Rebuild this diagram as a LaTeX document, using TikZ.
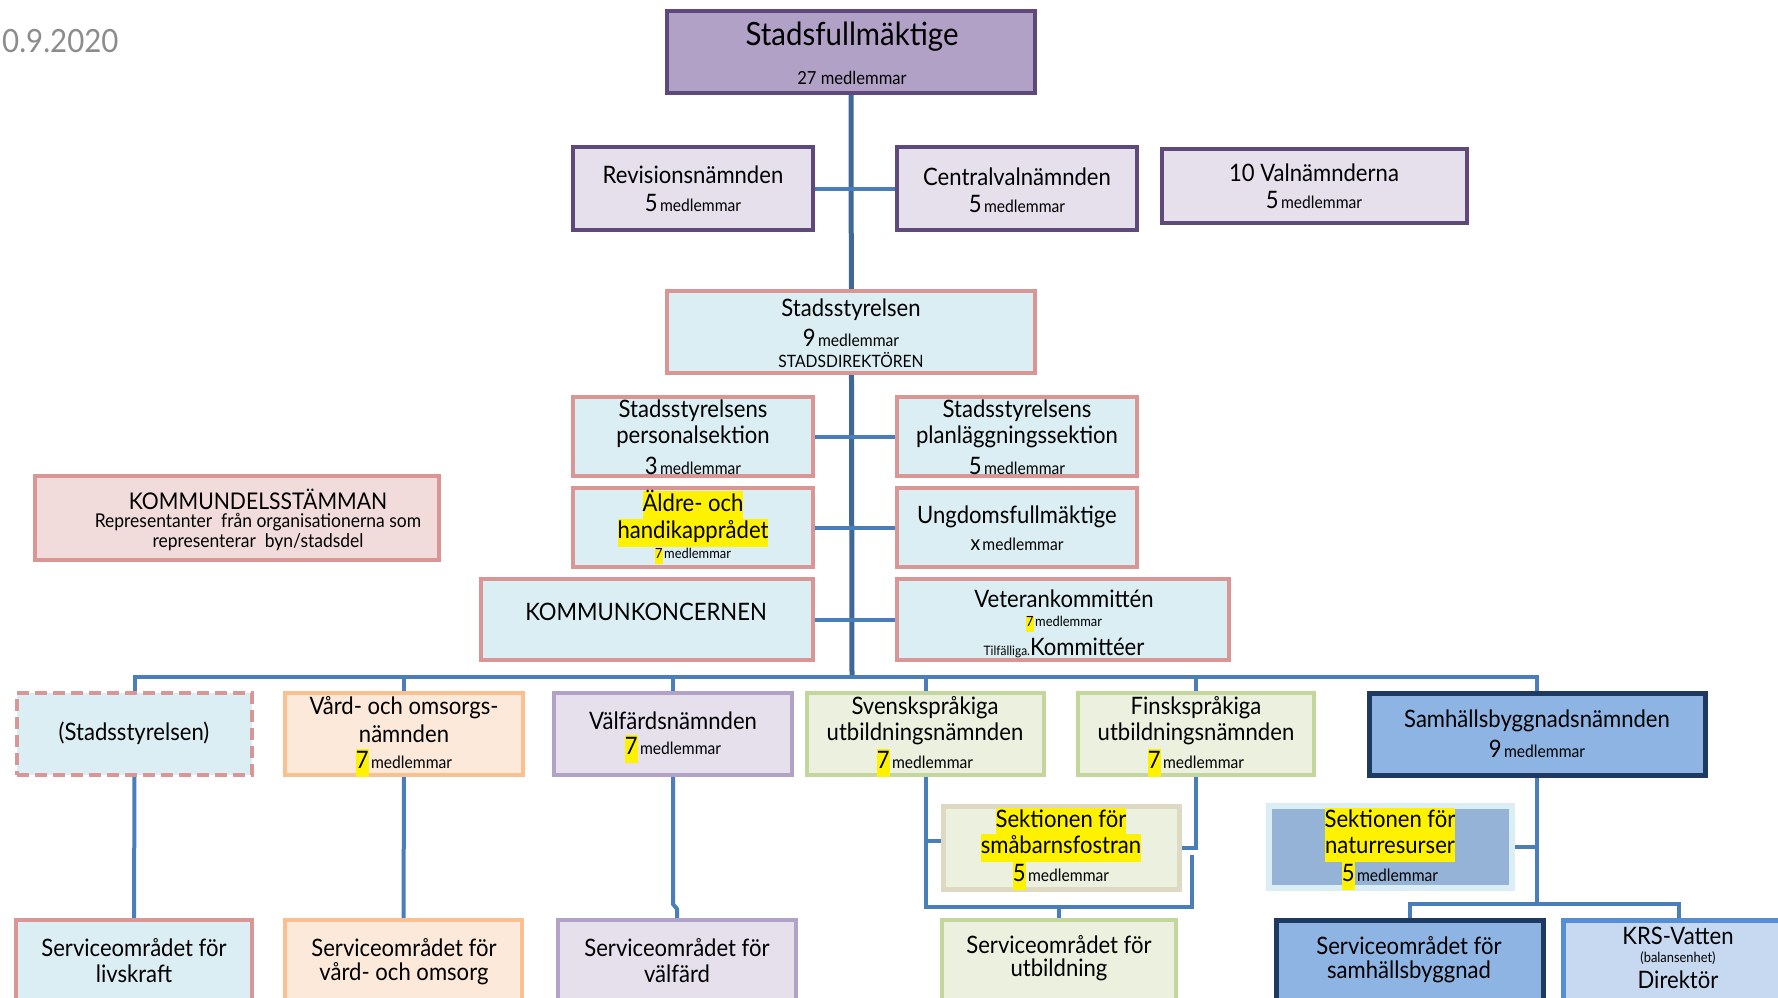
\documentclass[tikz,border=0pt]{standalone}
\usepackage{fontspec}
\setmainfont{Lato}[FakeStretch=0.92]
\usetikzlibrary{fit}
\pgfdeclarelayer{bg}
\pgfsetlayers{bg,main}
\definecolor{purpD}{HTML}{5F497A}
\definecolor{sfFill}{HTML}{B2A1C7}
\definecolor{lavF}{HTML}{E5E0EC}
\definecolor{pinkB}{HTML}{D99694}
\definecolor{ltBlue}{HTML}{DBEEF4}
\definecolor{pinkF}{HTML}{F2DCDB}
\definecolor{orgB}{HTML}{FAC08F}
\definecolor{orgF}{HTML}{FDE9D9}
\definecolor{vioB}{HTML}{B3A2C7}
\definecolor{grnB}{HTML}{C3D69B}
\definecolor{grnF}{HTML}{EBF1DE}
\definecolor{tanB}{HTML}{DDD9C3}
\definecolor{samF}{HTML}{8EB4E3}
\definecolor{navyB}{HTML}{1F3A60}
\definecolor{natF}{HTML}{95B3D7}
\definecolor{krsF}{HTML}{C6D9F1}
\definecolor{krsB}{HTML}{558ED5}
\definecolor{connC}{HTML}{4A7EBB}
\definecolor{trunkC}{HTML}{3F6897}
\definecolor{dateC}{HTML}{8C8C8C}
\newcommand\fA{\fontsize{24}{28}\selectfont}
\newcommand\fB{\fontsize{17}{20}\selectfont}
\newcommand\fC{\fontsize{14}{16}\selectfont}
\newcommand\fD{\fontsize{32}{36}\selectfont}
\newcommand\hl[1]{{\setlength{\fboxsep}{0pt}\colorbox{yellow}{#1\strut}}}
\newcommand\txtline[4]{\node[txt] (#1) at (#2,#3) {#4};}
\newcommand\med[1]{{\fA #1} {\fB medlemmar}}
\begin{document}
\begin{tikzpicture}[x=1pt,y=-1pt,
  box/.style={draw, line width=4pt, inner sep=0pt, outer sep=0pt},
  purpbox/.style={box, fill=sfFill, draw=purpD},
  lavbox/.style={box, fill=lavF, draw=purpD},
  pinkbox/.style={box, fill=ltBlue, draw=pinkB},
  rosebox/.style={box, fill=pinkF, draw=pinkB},
  orgbox/.style={box, fill=orgF, draw=orgB},
  viobox/.style={box, fill=lavF, draw=vioB},
  grnbox/.style={box, fill=grnF, draw=grnB},
  tanbox/.style={box, fill=grnF, draw=tanB, line width=5pt},
  navybox/.style={box, fill=samF, draw=navyB, line width=5pt},
  natbox/.style={box, fill=natF, draw=ltBlue, line width=6pt},
  krsbox/.style={box, fill=krsF, draw=krsB, line width=5pt},
  txt/.style={inner sep=0pt, align=center, text=black, yshift=-2.5pt},
  conn/.style={draw=connC, line width=4pt},
  trunk/.style={draw=trunkC, line width=5pt}]
\clip (0,0) rectangle (1778,998);

% date
\node[txt, anchor=west, text=dateC] (date) at (2,39) {\fD 0.9.2020};

% boxes
\node[purpbox, fit={(667,11) (1035,93)}] (sf) {};
\node[lavbox, fit={(573,147) (813,230)}] (rev) {};
\node[lavbox, fit={(897,147) (1137,230)}] (cen) {};
\node[lavbox, fit={(1162,149) (1467,223)}] (val) {};
\node[pinkbox, fit={(667,291) (1035,373)}] (ss) {};
\node[pinkbox, fit={(573,397) (813,476)}] (pers) {};
\node[pinkbox, fit={(897,397) (1137,476)}] (plan) {};
\node[pinkbox, fit={(573,488) (813,567)}] (aldre) {};
\node[pinkbox, fit={(897,488) (1137,567)}] (ung) {};
\node[pinkbox, fit={(481,579) (813,660)}] (kk) {};
\node[pinkbox, fit={(897,579) (1229,660)}] (vet) {};
\node[rosebox, fit={(35,476) (439,560)}] (kds) {};

\node[pinkbox, dash pattern=on 12pt off 6pt, fit={(17,693) (252,775)}] (sst) {};
\node[orgbox, fit={(285,693) (523,775)}] (vard) {};
\node[viobox, fit={(554,693) (792,775)}] (valf) {};
\node[grnbox, fit={(807,693) (1044,775)}] (sv) {};
\node[grnbox, fit={(1078,693) (1314,775)}] (fi) {};
\node[navybox, fit={(1369,693) (1705,775)}] (samh) {};

\node[tanbox, fit={(943,806) (1179,889)}] (smab) {};
\node[natbox, fit={(1269,806) (1512,888)}] (nat) {};

\node[pinkbox, fit={(16,920) (252,1010)}] (svc1) {};
\node[orgbox, fit={(285,920) (522,1010)}] (svc2) {};
\node[viobox, fit={(558,920) (796,1010)}] (svc3) {};
\node[grnbox, fit={(942,920) (1176,1010)}] (utb) {};
\node[navybox, fit={(1276,920) (1543,1010)}] (ssb) {};
\node[krsbox, fit={(1563,920) (1795,1010)}] (krs) {};

% connectors (behind the boxes)
\begin{pgfonlayer}{bg}
\fill[white] (0,0) rectangle (1778,998);
\coordinate (busC) at (852,677);
\draw[trunk] (sf.south) -- (busC);
\draw[conn] (rev.east) -- (cen.west);
\draw[conn] (pers.east) -- (plan.west);
\draw[conn] (aldre.east) -- (ung.west);
\draw[conn] (kk.east) -- (vet.west);
\draw[conn] (sst.north) -- (sst.north |- busC) -| (samh.north);
\draw[conn] (vard.north) -- (vard.north |- busC);
\draw[conn] (valf.north) -- (valf.north |- busC);
\draw[conn] (sv.north) -- (sv.north |- busC);
\draw[conn] (fi.north) -- (fi.north |- busC);

\draw[conn] (sst.south) -- (svc1.north);
\draw[conn] (vard.south) -- (svc2.north);
\draw[conn] (valf.south) -- ([yshift=16pt]valf.south |- svc3.north) -- ([yshift=11pt]svc3.north) -- (svc3.north);

\coordinate (brR) at (1192,907);
\coordinate (svStub) at (924,841);
\draw[conn] (sv.south) |- (brR) -- ([yshift=52pt]brR);
\draw[conn] (svStub) -- (smab.west |- svStub);
\draw[conn] (fi.south) |- (smab.east);
\draw[conn] (utb.north) -- (utb.north |- brR);

\coordinate (sj) at (1537,904);
\draw[conn] (samh.south) -- (sj);
\draw[conn] (samh.south |- nat.east) -- (nat.east);
\draw[conn] (ssb.north) |- (sj) -| (krs.north);
\end{pgfonlayer}

% texts
\txtline{t1}{852}{34}{\fD Stadsfullmäktige}
\txtline{t2}{852}{75}{\fontsize{18}{21}\selectfont 27 medlemmar}
\txtline{t3}{693}{172}{\fA Revisionsnämnden}
\txtline{t4}{693}{200}{\med{5}}
\txtline{t5}{1017}{174}{\fA Centralvalnämnden}
\txtline{t6}{1017}{201}{\med{5}}
\txtline{t7}{1314}{170}{\fA 10 Valnämnderna}
\txtline{t8}{1314}{197}{\med{5}}
\txtline{t9}{851}{307}{\fA Stadsstyrelsen}
\txtline{t10}{851}{335}{\med{9}}
\txtline{t11}{851}{358}{\fB STADSDIREKTÖREN}
\txtline{t12}{693}{408}{\fA Stadsstyrelsens}
\txtline{t13}{693}{434}{\fA personalsektion}
\txtline{t14}{693}{463}{\med{3}}
\txtline{t15}{1017}{408}{\fA Stadsstyrelsens}
\txtline{t16}{1017}{434}{\fA planläggningssektion}
\txtline{t17}{1017}{463}{\med{5}}
\txtline{t18}{693}{503}{\hl{\fA Äldre- och}}
\txtline{t19}{693}{530}{\hl{\fA handikapprådet}}
\txtline{t20}{693}{553}{\hl{\fC 7}\,{\fC medlemmar}}
\txtline{t21}{1017}{514}{\fA Ungdomsfullmäktige}
\txtline{t22}{1017}{542}{{\fontsize{21}{24}\selectfont x} {\fB medlemmar}}
\txtline{t23}{646}{609}{\fA KOMMUNKONCERNEN}
\txtline{t24}{1064}{596}{\fA Veterankommittén}
\txtline{t25}{1064}{621}{\hl{\fC 7}\,{\fC medlemmar}}
\txtline{t26}{1064}{645}{{\fontsize{13}{15}\selectfont Tilfälliga.}{\fA Kommittéer}}
\txtline{t27}{258}{497}{\fontsize{23}{27}\selectfont KOMMUNDELSSTÄMMAN}
\txtline{t28}{258}{520}{\fontsize{19}{22}\selectfont Representanter~ från organisationerna som}
\txtline{t29}{258}{540}{\fontsize{19}{22}\selectfont representerar~ byn/stadsdel}

\txtline{t30}{134}{731}{\fA (Stadsstyrelsen)}
\txtline{t31}{404}{705}{\fA Vård- och omsorgs-}
\txtline{t32}{404}{731}{\fA nämnden}
\txtline{t33}{404}{760}{\hl{\fA 7} {\fB medlemmar}}
\txtline{t34}{673}{718}{\fA Välfärdsnämnden}
\txtline{t35}{673}{746}{\hl{\fA 7} {\fB medlemmar}}
\txtline{t36}{925}{705}{\fA Svenskspråkiga}
\txtline{t37}{925}{731}{\fA utbildningsnämnden}
\txtline{t38}{925}{760}{\hl{\fA 7} {\fB medlemmar}}
\txtline{t39}{1196}{705}{\fA Finskspråkiga}
\txtline{t40}{1196}{731}{\fA utbildningsnämnden}
\txtline{t41}{1196}{760}{\hl{\fA 7} {\fB medlemmar}}
\txtline{t42}{1537}{718}{\fA Samhällsbyggnadsnämnden}
\txtline{t43}{1537}{746}{\med{9}}

\txtline{t44}{1061}{819}{\hl{\fA Sektionen för}}
\txtline{t45}{1061}{845}{\hl{\fA småbarnsfostran}}
\txtline{t46}{1061}{873}{\hl{\fA 5} {\fB medlemmar}}
\txtline{t47}{1390}{819}{\hl{\fA Sektionen för}}
\txtline{t48}{1390}{845}{\hl{\fA naturresurser}}
\txtline{t49}{1390}{873}{\hl{\fA 5} {\fB medlemmar}}

\txtline{t50}{134}{945}{\fA Serviceområdet för}
\txtline{t51}{134}{971}{\fA livskraft}
\txtline{t52}{404}{945}{\fA Serviceområdet för}
\txtline{t53}{404}{971}{\fA vård- och omsorg}
\txtline{t54}{677}{945}{\fA Serviceområdet för}
\txtline{t55}{677}{971}{\fA välfärd}
\txtline{t56}{1059}{942}{\fA Serviceområdet för}
\txtline{t57}{1059}{967}{\fA utbildning}
\txtline{t58}{1409}{943}{\fA Serviceområdet för}
\txtline{t59}{1409}{969}{\fA samhällsbyggnad}
\txtline{t60}{1678}{933}{\fA KRS-Vatten}
\txtline{t61}{1678}{956}{\fC (balansenhet)}
\txtline{t62}{1678}{977}{\fA Direktör}
\end{tikzpicture}
\end{document}
